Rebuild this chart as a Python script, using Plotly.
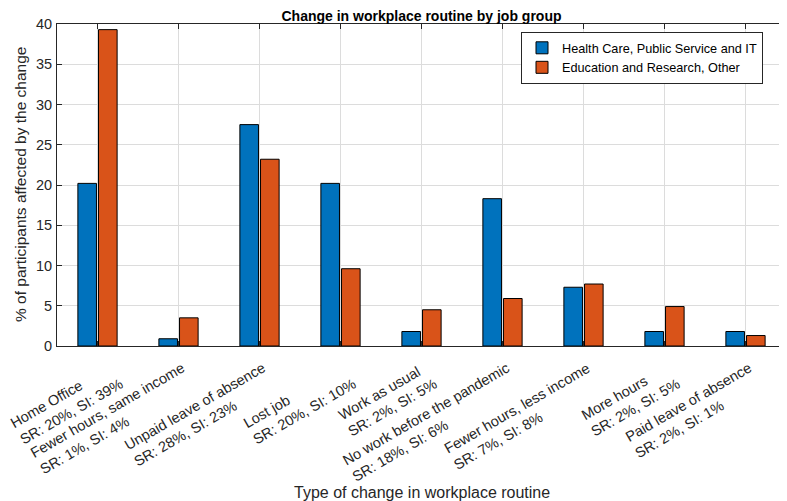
import plotly.graph_objects as go

# job group survey results, % of participants
categories = [
    "Home Office<br>SR: 20%, SI: 39%",
    "Fewer hours, same income<br>SR: 1%, SI: 4%",
    "Unpaid leave of absence<br>SR: 28%, SI: 23%",
    "Lost job<br>SR: 20%, SI: 10%",
    "Work as usual<br>SR: 2%, SI: 5%",
    "No work before the pandemic<br>SR: 18%, SI: 6%",
    "Fewer hours, less income<br>SR: 7%, SI: 8%",
    "More hours<br>SR: 2%, SI: 5%",
    "Paid leave of absence<br>SR: 2%, SI: 1%",
]
health_it = [20.2, 0.9, 27.5, 20.2, 1.8, 18.3, 7.3, 1.8, 1.8]
edu_other = [39.3, 3.5, 23.2, 9.6, 4.5, 5.9, 7.7, 4.9, 1.3]
series_names = ["Health Care, Public Service and IT", "Education and Research, Other"]

xpos = list(range(len(categories)))
font_main = "Liberation Sans, Arial, sans-serif"
axis_col = "#262626"

fig = go.Figure()
fig.add_trace(go.Bar(x=xpos, y=health_it, name=series_names[0],
                     marker=dict(color="#0072BD", line=dict(color="black", width=1))))
fig.add_trace(go.Bar(x=xpos, y=edu_other, name=series_names[1],
                     marker=dict(color="#D95319", line=dict(color="black", width=1))))

# matlab-style rotated tick labels: lines left aligned, block right edge at the tick
for i, lab in zip(xpos, categories):
    fig.add_annotation(x=i, y=0, xref="x", yref="paper", text=lab,
                       textangle=-30, align="left", xanchor="right", yanchor="top",
                       xshift=21 + (10 if i == 0 else 0), yshift=-11, showarrow=False,
                       font=dict(size=14.5, color=axis_col))

# page body has an 8px margin, so the margins are pulled in by 8px
fig.update_layout(
    width=787, height=501,
    margin=dict(l=49, r=9, t=16, b=163),
    paper_bgcolor="white", plot_bgcolor="white",
    barmode="group", bargap=0.49, bargroupgap=0.1,
    font=dict(family=font_main, size=14, color=axis_col),
    title=dict(text="<b>Change in workplace routine by job group</b>",
               x=(49 + 729 / 2) / 787, xanchor="center",
               yref="container", y=0.9936, yanchor="top", pad=dict(t=0, b=0),
               font=dict(size=14, color="black")),
    legend=dict(x=0.6365, y=0.975, xanchor="left", yanchor="top",
                bgcolor="white", bordercolor=axis_col, borderwidth=1,
                font=dict(size=12.7, color="black"), tracegroupgap=0),
)
fig.update_xaxes(
    range=[-0.5, 8.5], tickmode="array", tickvals=xpos, showticklabels=False,
    automargin=False,
    showgrid=True, gridcolor="#dcdcdc", gridwidth=1,
    showline=True, linecolor=axis_col, linewidth=1, mirror="allticks",
    ticks="inside", ticklen=5, tickcolor=axis_col,
)
fig.update_yaxes(
    range=[0, 40], dtick=5, tickfont=dict(size=14.5), automargin=False,
    ticklabelstandoff=1,
    showgrid=True, gridcolor="#dcdcdc", gridwidth=1, zeroline=False,
    showline=True, linecolor=axis_col, linewidth=1, mirror="allticks",
    ticks="inside", ticklen=5, tickcolor=axis_col,
)
# axis titles placed as annotations so the plot area stays fixed
fig.add_annotation(text="Type of change in workplace routine", xref="paper", yref="paper",
                   x=0.5, y=0, yshift=-146, xanchor="center", yanchor="middle",
                   showarrow=False, font=dict(size=16, color=axis_col))
fig.add_annotation(text="% of participants affected by the change", xref="paper", yref="paper",
                   x=0, y=0.5, xshift=-37, textangle=-90, xanchor="center", yanchor="middle",
                   showarrow=False, font=dict(size=15.5, color=axis_col))

fig.write_html("out.html")
